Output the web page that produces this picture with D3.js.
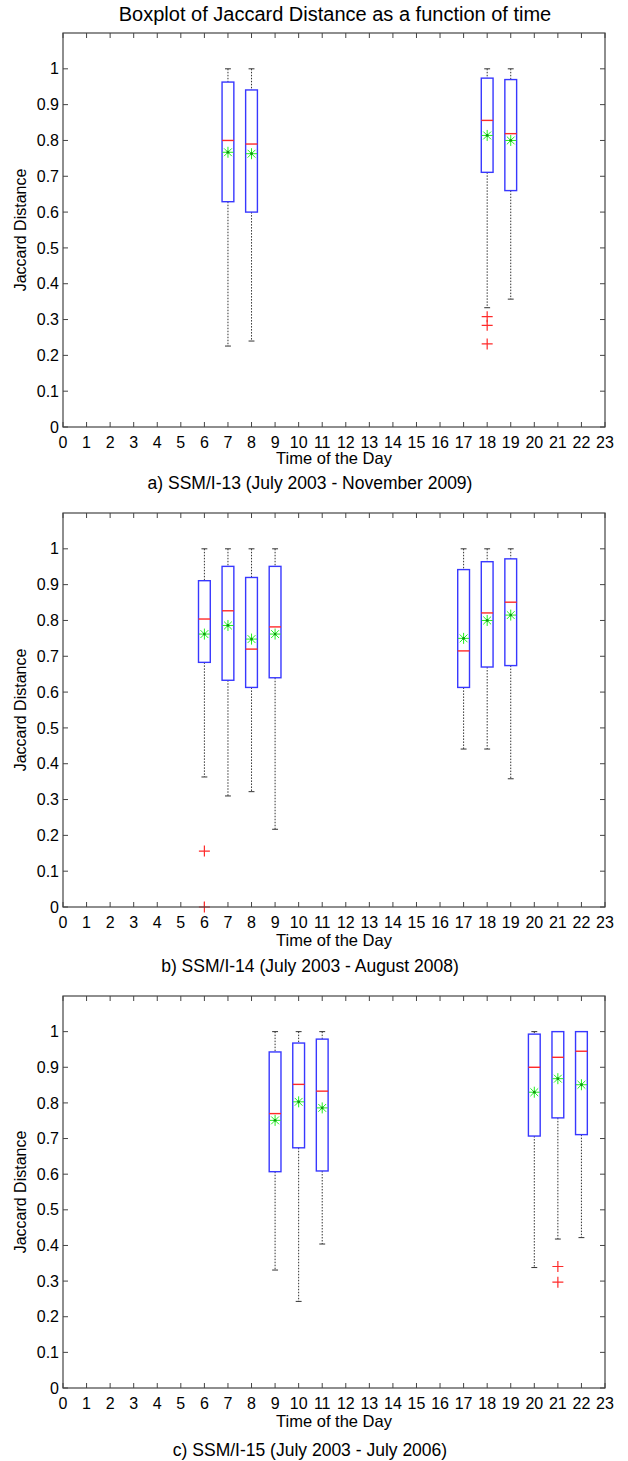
<!DOCTYPE html>
<html>
<head>
<meta charset="utf-8">
<script src="https://cdn.jsdelivr.net/npm/d3@7"></script>
<style>
  body { margin: 0; background: #fff; }
  text { font-family: "Liberation Sans", Arial, sans-serif; fill: #000; }
</style>
</head>
<body>
<svg width="628" height="1461"></svg>
<script>
// hours of the day (x ticks)
var hourTicks = d3.range(0, 24);
var yTicks = [0, 0.1, 0.2, 0.3, 0.4, 0.5, 0.6, 0.7, 0.8, 0.9, 1];

// panel a) SSM/I-13
var hoursA = [7, 8, 18, 19];
var loA    = [0.226, 0.24, 0.333, 0.357];
var q1A    = [0.629, 0.60, 0.711, 0.66];
var medA   = [0.80, 0.79, 0.856, 0.819];
var q3A    = [0.963, 0.941, 0.974, 0.970];
var hiA    = [1, 1, 1, 1];
var meanA  = [0.767, 0.763, 0.814, 0.80];
var outA   = [[], [], [0.308, 0.284, 0.232], []];

// panel b) SSM/I-14
var hoursB = [6, 7, 8, 9, 17, 18, 19];
var loB    = [0.363, 0.31, 0.322, 0.217, 0.441, 0.441, 0.358];
var q1B    = [0.683, 0.633, 0.613, 0.64, 0.613, 0.67, 0.674];
var medB   = [0.804, 0.827, 0.72, 0.782, 0.715, 0.821, 0.851];
var q3B    = [0.911, 0.951, 0.92, 0.951, 0.942, 0.964, 0.972];
var hiB    = [1, 1, 1, 1, 1, 1, 1];
var meanB  = [0.762, 0.786, 0.748, 0.762, 0.75, 0.80, 0.815];
var outB   = [[0.156, 0], [], [], [], [], [], []];

// panel c) SSM/I-15
var hoursC = [9, 10, 11, 20, 21, 22];
var loC    = [0.331, 0.243, 0.404, 0.338, 0.418, 0.422];
var q1C    = [0.607, 0.674, 0.609, 0.707, 0.758, 0.711];
var medC   = [0.77, 0.852, 0.833, 0.90, 0.928, 0.945];
var q3C    = [0.943, 0.968, 0.979, 0.993, 1, 1];
var hiC    = [1, 1, 1, 1, 1, 1];
var meanC  = [0.751, 0.803, 0.786, 0.83, 0.868, 0.851];
var outC   = [[], [], [], [], [0.341, 0.297], []];

var captions = [
  "a) SSM/I-13 (July 2003 - November 2009)",
  "b) SSM/I-14 (July 2003 - August 2008)",
  "c) SSM/I-15 (July 2003 - July 2006)"
];

function makeRows(h, lo, q1, med, q3, hi, mean, out) {
  return h.map(function(d, i) {
    return {h: d, lo: lo[i], q1: q1[i], med: med[i], q3: q3[i], hi: hi[i], mean: mean[i], out: out[i]};
  });
}

var panels = [
  {top: 33,  height: 394, labOff: 37, capOff: 62, rows: makeRows(hoursA, loA, q1A, medA, q3A, hiA, meanA, outA)},
  {top: 513, height: 394, labOff: 39, capOff: 65, rows: makeRows(hoursB, loB, q1B, medB, q3B, hiB, meanB, outB)},
  {top: 996, height: 392, labOff: 39, capOff: 68, rows: makeRows(hoursC, loC, q1C, medC, q3C, hiC, meanC, outC)}
];

var svg = d3.select("svg");
var left = 63, right = 605;
var x = d3.scaleLinear().domain([0, 23]).range([left, right]);
var boxW = 0.25, capW = 0.125;

svg.append("text")
  .attr("x", 335).attr("y", 21)
  .attr("text-anchor", "middle")
  .style("font-size", "20px")
  .text("Boxplot of Jaccard Distance as a function of time");

panels.forEach(function(p, pi) {
  var bottom = p.top + p.height;
  var y = d3.scaleLinear().domain([0, 1.1]).range([bottom, p.top]);
  var g = svg.append("g");

  // inward ticks on all four sides
  g.selectAll(".xtb").data(hourTicks).enter().append("line")
    .attr("x1", d => x(d)).attr("x2", d => x(d))
    .attr("y1", bottom).attr("y2", bottom - 5)
    .attr("stroke", "#444");
  g.selectAll(".xtt").data(hourTicks).enter().append("line")
    .attr("x1", d => x(d)).attr("x2", d => x(d))
    .attr("y1", p.top).attr("y2", p.top + 5)
    .attr("stroke", "#444");
  g.selectAll(".ytl").data(yTicks).enter().append("line")
    .attr("x1", left).attr("x2", left + 5)
    .attr("y1", d => y(d)).attr("y2", d => y(d))
    .attr("stroke", "#444");
  g.selectAll(".ytr").data(yTicks).enter().append("line")
    .attr("x1", right).attr("x2", right - 5)
    .attr("y1", d => y(d)).attr("y2", d => y(d))
    .attr("stroke", "#444");

  g.selectAll(".xl").data(hourTicks).enter().append("text")
    .attr("x", d => x(d)).attr("y", bottom + 21)
    .attr("text-anchor", "middle")
    .style("font-size", "16px")
    .text(d => d);
  g.selectAll(".yl").data(yTicks).enter().append("text")
    .attr("x", left - 4).attr("y", d => y(d)).attr("dy", "0.35em")
    .attr("text-anchor", "end")
    .style("font-size", "16px")
    .text(d => d);

  g.append("text")
    .attr("x", (left + right) / 2).attr("y", bottom + p.labOff)
    .attr("text-anchor", "middle")
    .style("font-size", "16.5px")
    .text("Time of the Day");
  g.append("text")
    .attr("transform", "translate(26," + (p.top + p.height / 2) + ") rotate(-90)")
    .attr("text-anchor", "middle")
    .style("font-size", "16px")
    .text("Jaccard Distance");
  g.append("text")
    .attr("x", 310).attr("y", bottom + p.capOff)
    .attr("text-anchor", "middle")
    .style("font-size", "17.5px")
    .text(captions[pi]);

  var b = g.selectAll(".box").data(p.rows).enter().append("g");

  // whiskers (dotted)
  b.append("line")
    .attr("x1", d => x(d.h)).attr("x2", d => x(d.h))
    .attr("y1", d => y(d.hi)).attr("y2", d => y(d.q3))
    .attr("stroke", "#333").attr("stroke-dasharray", "1.5,1.5");
  b.append("line")
    .attr("x1", d => x(d.h)).attr("x2", d => x(d.h))
    .attr("y1", d => y(d.q1)).attr("y2", d => y(d.lo))
    .attr("stroke", "#333").attr("stroke-dasharray", "1.5,1.5");
  // caps
  b.filter(d => d.hi > d.q3).append("line")
    .attr("x1", d => x(d.h - capW)).attr("x2", d => x(d.h + capW))
    .attr("y1", d => y(d.hi)).attr("y2", d => y(d.hi))
    .attr("stroke", "#333");
  b.append("line")
    .attr("x1", d => x(d.h - capW)).attr("x2", d => x(d.h + capW))
    .attr("y1", d => y(d.lo)).attr("y2", d => y(d.lo))
    .attr("stroke", "#333");
  // box
  b.append("rect")
    .attr("x", d => x(d.h - boxW))
    .attr("y", d => y(d.q3))
    .attr("width", d => x(d.h + boxW) - x(d.h - boxW))
    .attr("height", d => y(d.q1) - y(d.q3))
    .attr("fill", "none").attr("stroke", "#3838ff").attr("stroke-width", 1.4);
  // median
  b.append("line")
    .attr("x1", d => x(d.h - boxW)).attr("x2", d => x(d.h + boxW))
    .attr("y1", d => y(d.med)).attr("y2", d => y(d.med))
    .attr("stroke", "#ff2a2a").attr("stroke-width", 1.4);
  // mean (green asterisk)
  var star = b.append("g")
    .attr("transform", d => "translate(" + x(d.h) + "," + y(d.mean) + ")");
  [0, 45, 90, 135].forEach(function(a) {
    var r = 5.5, rad = a * Math.PI / 180;
    star.append("line")
      .attr("x1", -r * Math.cos(rad)).attr("y1", -r * Math.sin(rad))
      .attr("x2", r * Math.cos(rad)).attr("y2", r * Math.sin(rad))
      .attr("stroke", "#22ee22").attr("stroke-width", 1);
  });
  star.append("circle").attr("r", 1.4).attr("fill", "#119911");

  // outliers (red plus)
  b.each(function(d) {
    d3.select(this).selectAll(".out").data(d.out).enter().append("path")
      .attr("d", v => "M" + (x(d.h) - 5.5) + "," + y(v) + "h11M" + x(d.h) + "," + (y(v) - 5.5) + "v11")
      .attr("stroke", "#ff2a2a").attr("stroke-width", 1.2).attr("fill", "none");
  });

  // frame
  g.append("rect")
    .attr("x", left).attr("y", p.top)
    .attr("width", right - left).attr("height", p.height)
    .attr("fill", "none").attr("stroke", "#444").attr("stroke-width", 1.2);
});
</script>
</body>
</html>
